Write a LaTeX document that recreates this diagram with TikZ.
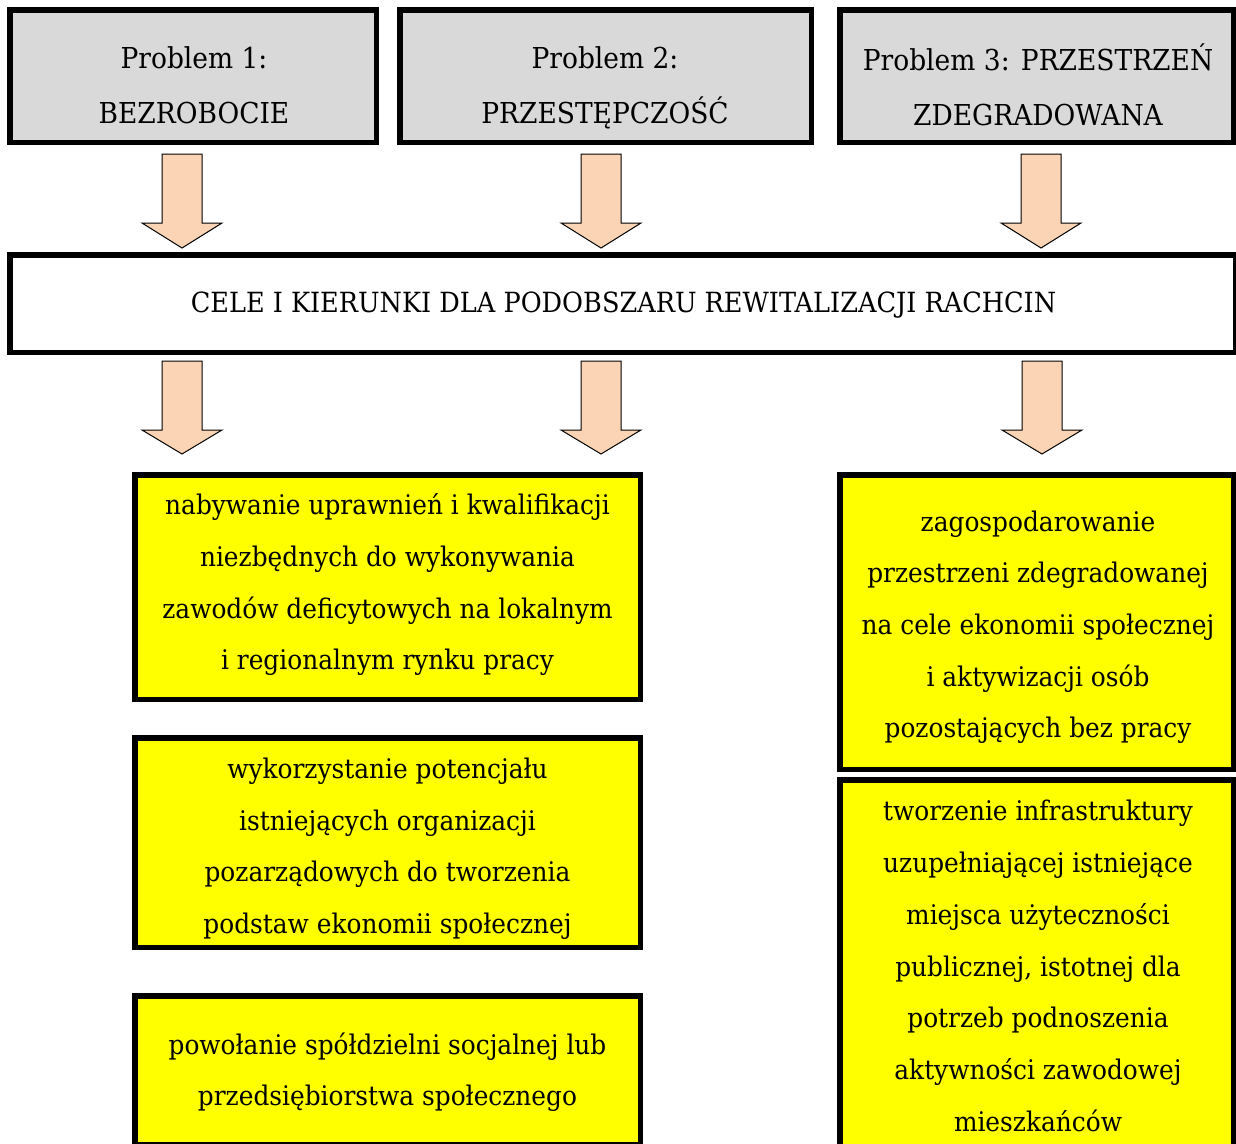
\documentclass[tikz,border=0pt]{standalone}
\usepackage{fontspec}
\setmainfont{DejaVu Serif}[FakeStretch=0.92]
\definecolor{boxgray}{RGB}{217,217,217}
\definecolor{boxyellow}{RGB}{255,255,0}
\definecolor{peach}{RGB}{250,212,180}
\tikzset{
  frame/.style={draw=black, line width=5.5pt, inner sep=0pt, rectangle},
  probbox/.style={frame, fill=boxgray},
  midbox/.style={frame, fill=white},
  goalbox/.style={frame, fill=boxyellow},
  txt/.style={inner sep=0pt, align=center, text=black,
    execute at begin node=\strut, execute at end node=\strut},
  toptxt/.style={txt, font=\fontsize{28.8}{55}\selectfont},
  midtxt/.style={txt, font=\fontsize{27.8}{51.7}\selectfont},
  bodytxt/.style={txt, font=\fontsize{27}{51.7}\selectfont},
  blockarr/.style={draw=black, line width=1pt, fill=peach, line join=miter}
}
\newcommand\blockarrow[4]{% x, top, head base, tip
  \draw[blockarr] ({#1-20},#2) -- ({#1+20},#2) -- ({#1+20},#3) -- ({#1+40},#3)
    -- (#1,#4) -- ({#1-40},#3) -- ({#1-20},#3) -- cycle;}
\begin{document}
\begin{tikzpicture}[x=1pt,y=-1pt]
\useasboundingbox (0,0) rectangle (1236,1143);
\clip (0,0) rectangle (1236,1143);
% problem boxes
\node[probbox, minimum width=366.5pt, minimum height=132.5pt] (p1box) at (193,76) {};
\node[probbox, minimum width=411.5pt, minimum height=132.5pt] (p2box) at (605.5,76) {};
\node[probbox, minimum width=393.5pt, minimum height=132.5pt] (p3box) at (1036.5,76) {};
\node[toptxt] (p1) at (194,93) {Problem 1:\\BEZROBOCIE};
\node[toptxt] (p2) at (605,93) {Problem 2:\\PRZESTĘPCZOŚĆ};
\node[toptxt] (p3) at (1038,93) {Problem 3: PRZESTRZEŃ\\ZDEGRADOWANA};
% middle box
\node[midbox, minimum width=1225.5pt, minimum height=97.5pt] (midbox) at (622.5,303.5) {};
\node[midtxt] (mid) at (623.5,302) {CELE I KIERUNKI DLA PODOBSZARU REWITALIZACJI RACHCIN};
% goal boxes
\node[goalbox, minimum width=505.5pt, minimum height=224.5pt] (g1box) at (387.5,587) {};
\node[goalbox, minimum width=505.5pt, minimum height=209.5pt] (g2box) at (387.5,842.5) {};
\node[goalbox, minimum width=505.5pt, minimum height=148.5pt] (g3box) at (387.5,1070) {};
\node[goalbox, minimum width=393.5pt, minimum height=294.5pt] (r1box) at (1036.5,622) {};
\node[goalbox, minimum width=393.5pt, minimum height=377.5pt] (r2box) at (1036.5,968.5) {};
\node[bodytxt] (g1) at (387.5,589.5) {nabywanie uprawnień i kwalifikacji\\niezbędnych do wykonywania\\zawodów deficytowych na lokalnym\\i regionalnym rynku pracy};
\node[bodytxt] (g2) at (387.5,853.5) {wykorzystanie potencjału\\istniejących organizacji\\pozarządowych do tworzenia\\podstaw ekonomii społecznej};
\node[bodytxt] (g3) at (387.5,1077) {powołanie spółdzielni socjalnej lub\\przedsiębiorstwa społecznego};
\node[bodytxt] (r1) at (1038,632) {zagospodarowanie\\przestrzeni zdegradowanej\\na cele ekonomii społecznej\\i aktywizacji osób\\pozostających bez pracy};
\node[bodytxt] (r2) at (1038,973.5) {tworzenie infrastruktury\\uzupełniającej istniejące\\miejsca użyteczności\\publicznej, istotnej dla\\potrzeb podnoszenia\\aktywności zawodowej\\mieszkańców};
% block arrows
\blockarrow{182}{154}{223}{248}
\blockarrow{601}{154}{223}{248}
\blockarrow{1041}{154}{223}{248}
\blockarrow{182}{361}{430}{454}
\blockarrow{601}{361}{430}{454}
\blockarrow{1042}{361}{430}{454}
\end{tikzpicture}
\end{document}
